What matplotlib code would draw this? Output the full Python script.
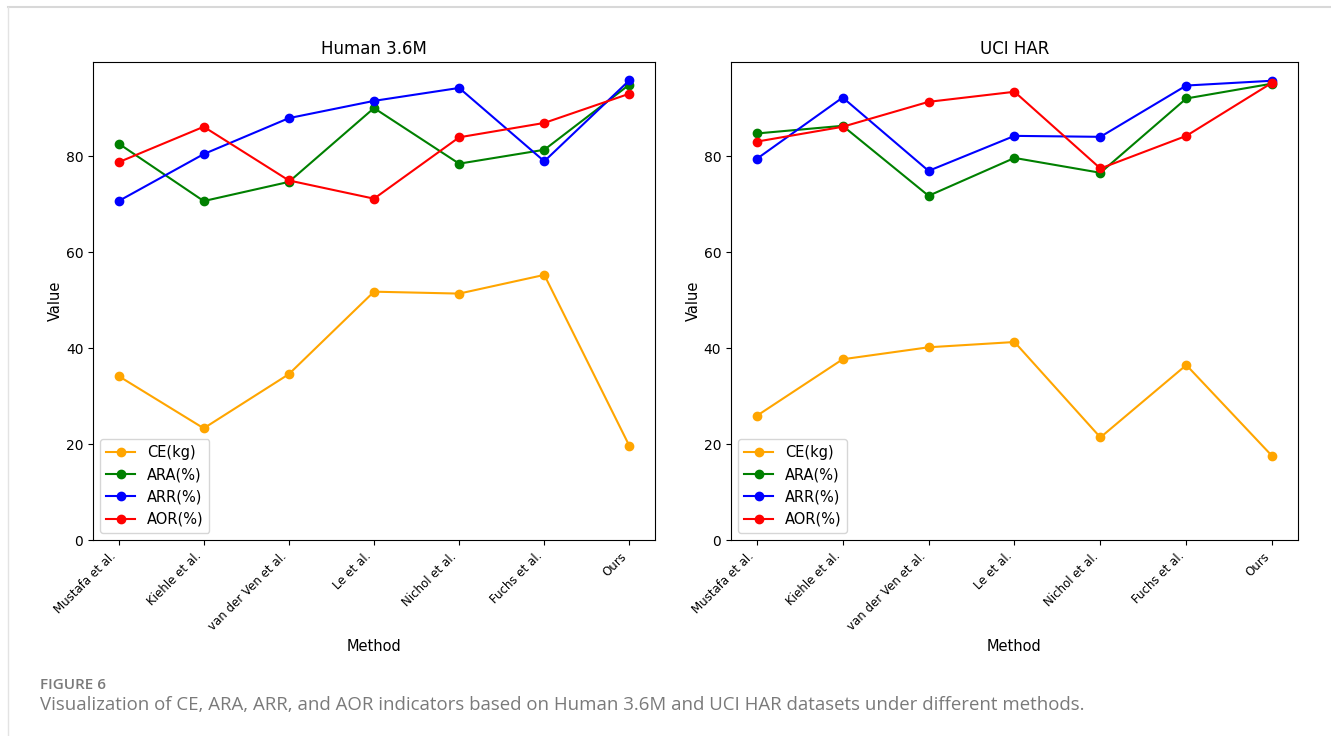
import numpy as np
import matplotlib
matplotlib.use('Agg')
import matplotlib.pyplot as plt
from matplotlib.lines import Line2D

methods = ['Mustafa et al.', 'Kiehle et al.', 'van der Ven et al.', 'Le et al.',
           'Nichol et al.', 'Fuchs et al.', 'Ours']

# Human 3.6M
h36_ce = [34.2, 23.3, 34.6, 51.8, 51.4, 55.3, 19.6]
h36_ara = [82.7, 70.7, 74.7, 90.1, 78.5, 81.4, 95.0]
h36_arr = [70.7, 80.5, 88.0, 91.6, 94.3, 79.0, 95.9]
h36_aor = [78.8, 86.2, 75.0, 71.2, 84.0, 87.0, 93.1]

# UCI HAR
uci_ce = [25.9, 37.7, 40.2, 41.3, 21.4, 36.5, 17.5]
uci_ara = [84.8, 86.4, 71.8, 79.7, 76.6, 92.1, 95.2]
uci_arr = [79.5, 92.3, 77.0, 84.3, 84.1, 94.8, 95.8]
uci_aor = [83.1, 86.2, 91.4, 93.5, 77.5, 84.3, 95.4]

labels = ['CE(kg)', 'ARA(%)', 'ARR(%)', 'AOR(%)']
colors = ['orange', 'green', 'blue', 'red']

fig = plt.figure(figsize=(13.31, 7.36), dpi=100)

# page frame lines (top and left) like the journal container
fig.add_artist(Line2D([0.006, 1.0], [0.990, 0.990], color='#d8d8d8', lw=1.5))
fig.add_artist(Line2D([0.006, 0.006], [0.0, 0.990], color='#e3e3e3', lw=1.0))

ax1 = fig.add_axes([0.0699, 0.2663, 0.4222, 0.6495])
ax2 = fig.add_axes([0.5492, 0.2663, 0.4260, 0.6495])


def draw(ax, title, series):
    x = np.arange(len(methods))
    for vals, lab, col in zip(series, labels, colors):
        ax.plot(x, vals, marker='o', color=col, label=lab, linewidth=1.5, markersize=6)
    ax.set_ylim(bottom=0)
    ax.set_xticks(x)
    ax.set_xticklabels(methods, rotation=45, ha='right', fontsize=8.5)
    ax.tick_params(axis='y', labelsize=10)
    ax.set_xlabel('Method', fontsize=10.5)
    ax.set_ylabel('Value', fontsize=10.5, labelpad=2)
    ax.set_title(title, fontsize=12)
    ax.legend(loc='lower left', fontsize=10.5)


draw(ax1, 'Human 3.6M', [h36_ce, h36_ara, h36_arr, h36_aor])
draw(ax2, 'UCI HAR', [uci_ce, uci_ara, uci_arr, uci_aor])

fig.text(0.0300, 0.0640, 'FIGURE 6', fontsize=11, color='#7a7a7a',
         family=['Open Sans', 'DejaVu Sans'], fontweight='semibold')
fig.text(0.0300, 0.0360,
         'Visualization of CE, ARA, ARR, and AOR indicators based on Human 3.6M and UCI HAR datasets under different methods.',
         fontsize=13.4, color='#7a7a7a', family=['Open Sans', 'DejaVu Sans'])

fig.savefig('out.png', dpi=100)
